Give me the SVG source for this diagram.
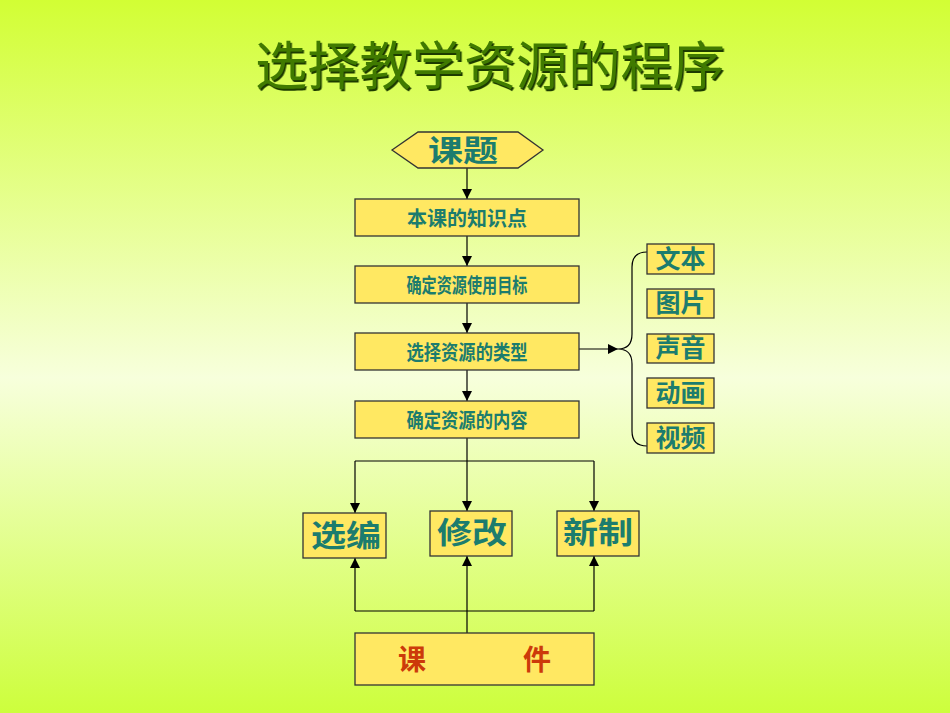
<svg xmlns="http://www.w3.org/2000/svg" width="950" height="713" viewBox="0 0 950 713">
<defs>
<linearGradient id="bg" x1="0" y1="0" x2="0" y2="1">
<stop offset="0" stop-color="#d2fe34"/>
<stop offset="0.53" stop-color="#f7ffdc"/>
<stop offset="1" stop-color="#cdfe3c"/>
</linearGradient>
<filter id="sh" x="-5%" y="-20%" width="110%" height="140%">
<feDropShadow dx="1.5" dy="2" stdDeviation="0.3" flood-color="#1a3a00" flood-opacity="1"/>
</filter>
<marker id="ah" viewBox="0 0 10 10" refX="10" refY="5" markerWidth="10" markerHeight="10" markerUnits="userSpaceOnUse" orient="auto">
<path d="M0,0 L10,5 L0,10 z" fill="#000"/>
</marker>
<style>
.box{fill:#ffe862;stroke:#333;stroke-width:1.3}
.ln{fill:none;stroke:#000;stroke-width:1.2}
.t{font-family:"Noto Sans CJK SC","Noto Sans CJK JP",sans-serif;font-weight:bold;fill:#1c7c6e;text-anchor:middle}
.s{font-size:20px}
.m{font-size:25px;font-weight:600}
.l{font-size:30px;font-weight:600}
</style>
</defs>
<rect x="0" y="0" width="950" height="713" fill="url(#bg)"/>
<g id="title">
<text x="490" y="85" font-family="'Noto Sans CJK SC',sans-serif" font-weight="400" font-size="52" text-anchor="middle" fill="#3f7a00" filter="url(#sh)" textLength="470" lengthAdjust="spacingAndGlyphs">选择教学资源的程序</text>
</g>
<g id="connectors">
<line class="ln" x1="467" y1="168" x2="467" y2="199" marker-end="url(#ah)"/>
<line class="ln" x1="467" y1="236" x2="467" y2="266" marker-end="url(#ah)"/>
<line class="ln" x1="467" y1="303" x2="467" y2="333" marker-end="url(#ah)"/>
<line class="ln" x1="467" y1="370" x2="467" y2="401" marker-end="url(#ah)"/>
<line class="ln" x1="579" y1="349" x2="618" y2="349" marker-end="url(#ah)"/>
<path class="ln" d="M647,252 Q632,252 632,267 L632,334 Q632,349 618,349 Q632,349 632,364 L632,431 Q632,446 647,446" stroke="#333"/>
<line class="ln" x1="467" y1="438" x2="467" y2="511" marker-end="url(#ah)"/>
<polyline class="ln" points="355,461 594,461"/>
<line class="ln" x1="355" y1="461" x2="355" y2="513" marker-end="url(#ah)"/>
<line class="ln" x1="594" y1="461" x2="594" y2="511" marker-end="url(#ah)"/>
<line class="ln" x1="467" y1="633" x2="467" y2="556" marker-end="url(#ah)"/>
<polyline class="ln" points="355,611 594,611"/>
<line class="ln" x1="355" y1="611" x2="355" y2="558" marker-end="url(#ah)"/>
<line class="ln" x1="594" y1="611" x2="594" y2="556" marker-end="url(#ah)"/>
</g>
<g id="keti">
<polygon class="box" points="392,150 418,132 518,132 543,150 518,168 418,168"/>
<text class="t l" x="463" y="161" textLength="70" lengthAdjust="spacingAndGlyphs">课题</text>
</g>
<g id="n1"><rect class="box" x="355" y="199" width="224" height="37"/><text class="t s" x="467" y="226" textLength="120" lengthAdjust="spacingAndGlyphs">本课的知识点</text></g>
<g id="n2"><rect class="box" x="355" y="266" width="224" height="37"/><text class="t s" x="467" y="293" textLength="121" lengthAdjust="spacingAndGlyphs">确定资源使用目标</text></g>
<g id="n3"><rect class="box" x="355" y="333" width="224" height="37"/><text class="t s" x="467" y="360" textLength="121" lengthAdjust="spacingAndGlyphs">选择资源的类型</text></g>
<g id="n4"><rect class="box" x="355" y="401" width="224" height="37"/><text class="t s" x="467" y="428" textLength="121" lengthAdjust="spacingAndGlyphs">确定资源的内容</text></g>
<g id="r1"><rect class="box" x="647" y="244" width="67" height="30"/><text class="t m" x="680.5" y="268">文本</text></g>
<g id="r2"><rect class="box" x="647" y="289" width="67" height="29"/><text class="t m" x="680.5" y="312">图片</text></g>
<g id="r3"><rect class="box" x="647" y="334" width="67" height="29"/><text class="t m" x="680.5" y="357">声音</text></g>
<g id="r4"><rect class="box" x="647" y="378" width="67" height="30"/><text class="t m" x="680.5" y="402">动画</text></g>
<g id="r5"><rect class="box" x="647" y="423" width="67" height="30"/><text class="t m" x="680.5" y="447">视频</text></g>
<g id="xuanbian"><rect class="box" x="303" y="513" width="83" height="45"/><text class="t l" x="346" y="546" textLength="70" lengthAdjust="spacingAndGlyphs">选编</text></g>
<g id="xiugai"><rect class="box" x="430" y="511" width="82" height="45"/><text class="t l" x="472" y="543" textLength="70" lengthAdjust="spacingAndGlyphs">修改</text></g>
<g id="xinzhi"><rect class="box" x="557" y="511" width="82" height="45"/><text class="t l" x="598" y="543" textLength="70" lengthAdjust="spacingAndGlyphs">新制</text></g>
<g id="kejian"><rect class="box" x="355" y="633" width="239" height="52"/>
<text class="t l" x="412" y="670" style="fill:#cc3a0a;font-size:28px">课</text>
<text class="t l" x="537" y="670" style="fill:#cc3a0a;font-size:28px">件</text></g>
</svg>
